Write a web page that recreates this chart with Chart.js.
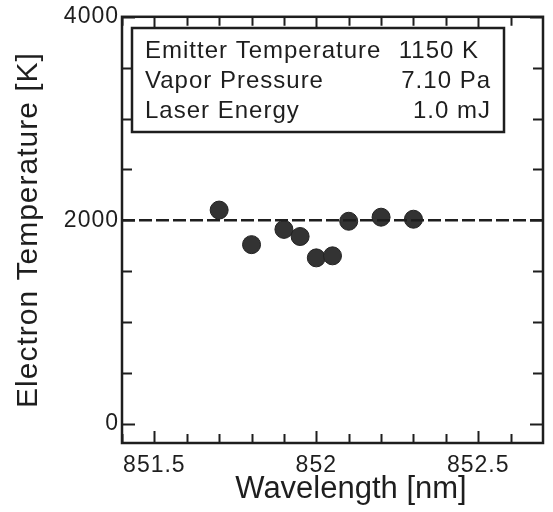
<!DOCTYPE html>
<html>
<head>
<meta charset="utf-8">
<script src="https://cdn.jsdelivr.net/npm/chart.js@4.4.1/dist/chart.umd.min.js"></script>
<style>
  html, body { margin: 0; padding: 0; background: #fff; }
  #wrap { width: 553px; height: 512px; }
</style>
</head>
<body>
<div id="wrap"><canvas id="chart" width="553" height="512"></canvas></div>
<script>
// measured points
const wavelength = [851.7, 851.8, 851.9, 851.95, 852.0, 852.05, 852.1, 852.2, 852.3];
const temperature = [2100, 1760, 1910, 1840, 1630, 1650, 1990, 2030, 2010];
const fitTemperature = 2000;

const xRange = [851.4, 852.7];
const yRange = [-190, 4000];
const xTicks = [851.4, 851.5, 851.6, 851.7, 851.8, 851.9, 852.0, 852.1, 852.2, 852.3, 852.4, 852.5, 852.6];
const xLabels = { '851.5': '851.5', '852': '852', '852.5': '852.5' };
const yTicks = [0, 500, 1000, 1500, 2000, 2500, 3000, 3500, 4000];
const yLabels = { '0': '0', '2000': '2000', '4000': '4000' };

const infoLabels = ['Emitter Temperature', 'Vapor Pressure', 'Laser Energy'];
const infoValues = ['1150 K', '7.10 Pa', '1.0 mJ'];

const xTitle = 'Wavelength [nm]';
const yTitle = 'Electron Temperature [K]';

const FONT = '"Liberation Sans", Arial, Helvetica, sans-serif';
const INK = '#1e1e1e';

function labelFor(map, v) {
    const key = String(Math.round(v * 10) / 10);
    return map[key] || '';
}

// frame, inward ticks, titles and the info box
const framePlugin = {
    id: 'frame',
    beforeDraw(chart) {
        chart.ctx.letterSpacing = '1px';
    },
    afterDraw(chart) {
        const ctx = chart.ctx;
        const a = chart.chartArea;
        const xs = chart.scales.x;
        const ys = chart.scales.y;
        ctx.save();
        ctx.strokeStyle = INK;
        ctx.lineWidth = 2.5;
        ctx.strokeRect(a.left, a.top, a.right - a.left, a.bottom - a.top);

        ctx.lineWidth = 2;
        xTicks.forEach(v => {
            const px = Math.round(xs.getPixelForValue(v)) + 0.5;
            const len = labelFor(xLabels, v) ? 12 : 9;
            ctx.beginPath();
            ctx.moveTo(px, a.bottom); ctx.lineTo(px, a.bottom - len);
            ctx.moveTo(px, a.top); ctx.lineTo(px, a.top + len);
            ctx.stroke();
        });
        yTicks.forEach(v => {
            const py = Math.round(ys.getPixelForValue(v)) + 0.5;
            const len = labelFor(yLabels, v) ? 13 : 10;
            ctx.beginPath();
            ctx.moveTo(a.left, py); ctx.lineTo(a.left + len, py);
            ctx.moveTo(a.right, py); ctx.lineTo(a.right - len, py);
            ctx.stroke();
        });

        // axis titles
        ctx.fillStyle = INK;
        ctx.textAlign = 'center';
        ctx.textBaseline = 'alphabetic';
        ctx.letterSpacing = '0px';
        ctx.font = '31px ' + FONT;
        ctx.fillText(xTitle, 351, 498);
        ctx.save();
        ctx.translate(37, 230);
        ctx.rotate(-Math.PI / 2);
        ctx.letterSpacing = '1px';
        ctx.font = '30px ' + FONT;
        ctx.fillText(yTitle, 0, 0);
        ctx.restore();

        // info box
        const bx = 132, by = 28, bw = 372, bh = 104;
        ctx.fillStyle = '#fff';
        ctx.fillRect(bx, by, bw, bh);
        ctx.lineWidth = 2.5;
        ctx.strokeRect(bx, by, bw, bh);
        ctx.fillStyle = INK;
        ctx.font = '24px ' + FONT;
        ctx.letterSpacing = '1px';
        const baselines = [58, 88, 118];
        infoLabels.forEach((s, i) => {
            ctx.textAlign = 'left';
            ctx.fillText(s, 145, baselines[i]);
            ctx.textAlign = 'right';
            ctx.fillText(infoValues[i], i === 0 ? 479 : 491, baselines[i]);
        });
        ctx.restore();
    }
};

const ctx = document.getElementById('chart').getContext('2d');
new Chart(ctx, {
    type: 'scatter',
    data: {
        datasets: [
            {
                type: 'line',
                data: [{ x: xRange[0], y: fitTemperature }, { x: xRange[1], y: fitTemperature }],
                borderColor: INK,
                borderWidth: 2.5,
                borderDash: [13, 4],
                pointRadius: 0,
                fill: false
            },
            {
                data: wavelength.map((w, i) => ({ x: w, y: temperature[i] })),
                backgroundColor: '#333',
                borderColor: '#222',
                borderWidth: 1,
                pointRadius: 9
            }
        ]
    },
    options: {
        responsive: false,
        animation: false,
        layout: { padding: { left: 0, right: 5, top: 16, bottom: 0 } },
        plugins: {
            legend: { display: false },
            tooltip: { enabled: false }
        },
        scales: {
            x: {
                type: 'linear',
                min: xRange[0],
                max: xRange[1],
                afterBuildTicks: scale => { scale.ticks = xTicks.map(v => ({ value: v })); },
                afterFit: scale => { scale.height = 69; },
                grid: { display: false, drawTicks: false },
                border: { display: false },
                ticks: {
                    autoSkip: false,
                    maxRotation: 0,
                    padding: 9,
                    color: INK,
                    font: { family: FONT, size: 23 },
                    callback: v => labelFor(xLabels, v)
                }
            },
            y: {
                min: yRange[0],
                max: yRange[1],
                afterBuildTicks: scale => { scale.ticks = yTicks.map(v => ({ value: v })); },
                afterFit: scale => { scale.width = 122; },
                grid: { display: false, drawTicks: false },
                border: { display: false },
                ticks: {
                    autoSkip: false,
                    padding: 3,
                    color: INK,
                    font: { family: FONT, size: 23 },
                    callback: v => labelFor(yLabels, v)
                }
            }
        }
    },
    plugins: [framePlugin]
});
</script>
</body>
</html>
